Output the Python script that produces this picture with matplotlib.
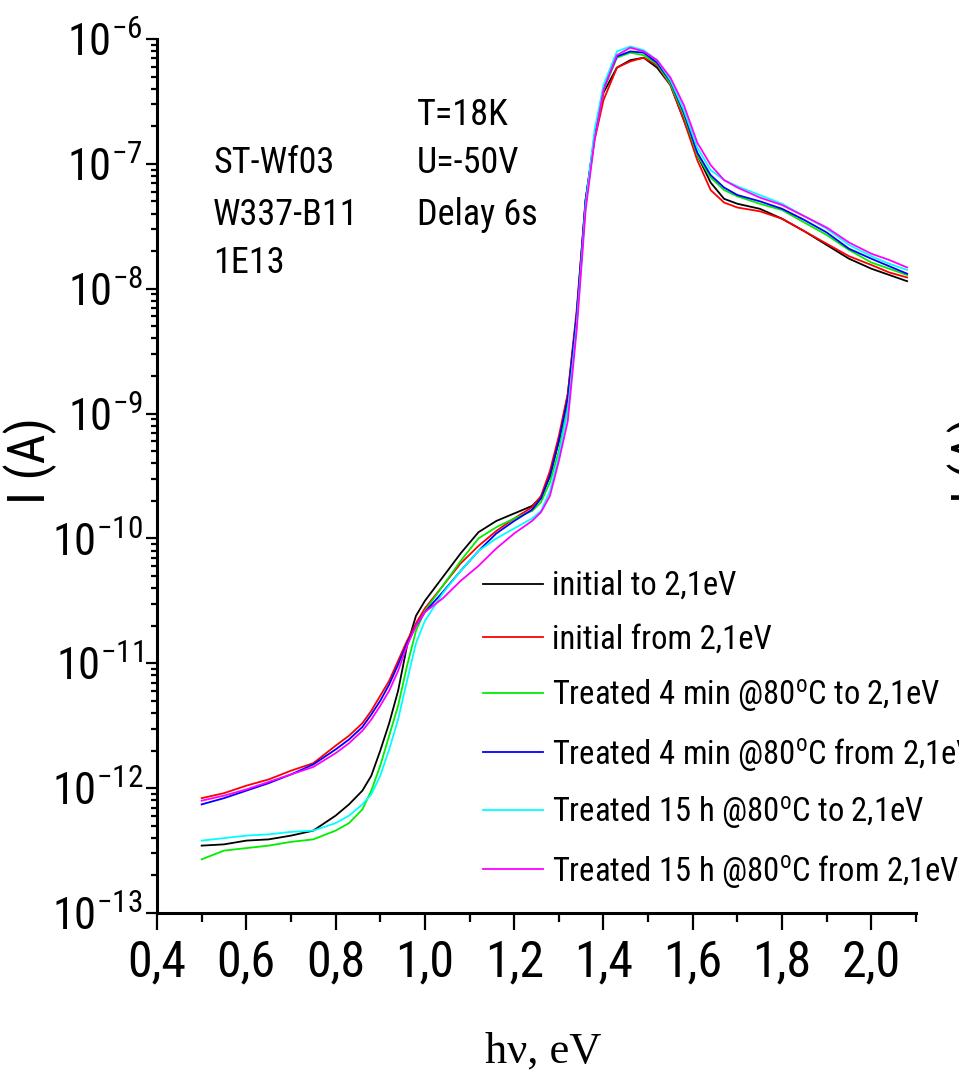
import numpy as np
import matplotlib.pyplot as plt
from matplotlib import font_manager
from matplotlib.ticker import LogLocator, FuncFormatter, MultipleLocator, NullFormatter

# prefer a condensed sans if one is installed
available = {f.name for f in font_manager.fontManager.ttflist}
SANS = 'Roboto Condensed' if 'Roboto Condensed' in available else 'Liberation Sans'

plt.rcParams['font.family'] = [SANS, 'DejaVu Sans']
plt.rcParams['mathtext.fontset'] = 'custom'
plt.rcParams['mathtext.rm'] = SANS
plt.rcParams['mathtext.it'] = SANS + ':italic'
plt.rcParams['mathtext.bf'] = SANS + ':bold'
plt.rcParams['mathtext.default'] = 'rm'

# photon energy, eV
hv = [0.50, 0.55, 0.60, 0.65, 0.70, 0.75, 0.80, 0.83, 0.86, 0.88,
      0.90, 0.92, 0.94, 0.96, 0.98, 1.00, 1.04, 1.08, 1.12, 1.16,
      1.20, 1.24, 1.26, 1.28, 1.30, 1.32, 1.34, 1.36, 1.38, 1.40,
      1.43, 1.46, 1.49, 1.52, 1.55, 1.58, 1.61, 1.64, 1.67, 1.70,
      1.75, 1.80, 1.85, 1.90, 1.95, 2.00, 2.04, 2.08]

# log10 of photocurrent (A) for each scan
lg_init_to = [-12.46, -12.45, -12.42, -12.41, -12.38, -12.34, -12.22, -12.13, -12.02, -11.90,
              -11.70, -11.48, -11.22, -10.86, -10.62, -10.50, -10.31, -10.12, -9.95, -9.86,
              -9.80, -9.74, -9.67, -9.50, -9.22, -8.85, -8.21, -7.29, -6.79, -6.43,
              -6.23, -6.17, -6.15, -6.23, -6.37, -6.65, -6.93, -7.15, -7.28, -7.32,
              -7.36, -7.44, -7.54, -7.65, -7.76, -7.84, -7.89, -7.94]
lg_init_from = [-12.08, -12.04, -11.98, -11.93, -11.86, -11.80, -11.66, -11.58, -11.48, -11.38,
                -11.26, -11.14, -10.98, -10.82, -10.68, -10.56, -10.38, -10.20, -10.06, -9.94,
                -9.84, -9.75, -9.66, -9.46, -9.18, -8.84, -8.17, -7.29, -6.81, -6.49,
                -6.23, -6.18, -6.15, -6.21, -6.37, -6.65, -6.97, -7.21, -7.31, -7.35,
                -7.38, -7.44, -7.54, -7.64, -7.74, -7.81, -7.87, -7.91]
lg_4min_to = [-12.57, -12.50, -12.48, -12.46, -12.43, -12.41, -12.34, -12.28, -12.17, -12.02,
              -11.82, -11.58, -11.34, -11.02, -10.74, -10.58, -10.38, -10.18, -10.00, -9.91,
              -9.84, -9.78, -9.71, -9.55, -9.30, -8.94, -8.25, -7.33, -6.79, -6.41,
              -6.15, -6.11, -6.13, -6.20, -6.36, -6.61, -6.93, -7.11, -7.21, -7.26,
              -7.32, -7.37, -7.47, -7.57, -7.69, -7.79, -7.84, -7.89]
lg_4min_from = [-12.13, -12.08, -12.02, -11.96, -11.89, -11.81, -11.69, -11.61, -11.51, -11.41,
                -11.30, -11.17, -11.01, -10.84, -10.70, -10.59, -10.43, -10.26, -10.10, -9.96,
                -9.86, -9.77, -9.68, -9.50, -9.22, -8.88, -8.21, -7.29, -6.77, -6.39,
                -6.14, -6.10, -6.11, -6.19, -6.34, -6.59, -6.91, -7.09, -7.19, -7.25,
                -7.30, -7.36, -7.45, -7.55, -7.68, -7.76, -7.82, -7.88]
lg_15h_to = [-12.42, -12.40, -12.38, -12.37, -12.35, -12.34, -12.28, -12.22, -12.13, -12.05,
             -11.90, -11.69, -11.45, -11.14, -10.84, -10.66, -10.44, -10.26, -10.10, -10.00,
             -9.92, -9.84, -9.78, -9.62, -9.34, -8.98, -8.29, -7.33, -6.73, -6.37,
             -6.10, -6.06, -6.09, -6.17, -6.33, -6.57, -6.87, -7.05, -7.13, -7.18,
             -7.25, -7.32, -7.42, -7.52, -7.65, -7.74, -7.80, -7.85]
lg_15h_from = [-12.10, -12.06, -12.01, -11.95, -11.89, -11.83, -11.72, -11.64, -11.54, -11.45,
               -11.34, -11.22, -11.06, -10.86, -10.70, -10.59, -10.48, -10.34, -10.22, -10.08,
               -9.96, -9.86, -9.79, -9.66, -9.38, -9.06, -8.33, -7.37, -6.81, -6.41,
               -6.13, -6.07, -6.10, -6.17, -6.31, -6.53, -6.83, -7.01, -7.13, -7.19,
               -7.27, -7.33, -7.42, -7.51, -7.63, -7.72, -7.77, -7.83]

labels = ['initial to 2,1eV',
          'initial from 2,1eV',
          r'Treated 4 min @80$^{o}$C to 2,1eV',
          r'Treated 4 min @80$^{o}$C from 2,1eV',
          r'Treated 15 h @80$^{o}$C to 2,1eV',
          r'Treated 15 h @80$^{o}$C from 2,1eV']
colors = ['#000000', '#ff0000', '#00ee00', '#0000ff', '#00ffff', '#ff00ff']
series = [lg_init_to, lg_init_from, lg_4min_to, lg_4min_from, lg_15h_to, lg_15h_from]

fig = plt.figure(figsize=(9.59, 10.79), dpi=100)
ax = fig.add_axes([0.1637, 0.1538, 0.7915, 0.8101])

for lg, c, lab in zip(series, colors, labels):
    ax.plot(hv, 10 ** np.array(lg), color=c, lw=1.3, label=lab)

ax.set_yscale('log')
ax.set_ylim(1e-13, 1e-6)
ax.set_xlim(0.4, 2.1)

ax.spines['top'].set_visible(False)
ax.spines['right'].set_visible(False)
for s in ('left', 'bottom'):
    ax.spines[s].set_linewidth(2.2)

ax.xaxis.set_major_locator(MultipleLocator(0.2))
ax.xaxis.set_minor_locator(MultipleLocator(0.1))
ax.xaxis.set_major_formatter(FuncFormatter(lambda v, p: f'{v:.1f}'.replace('.', ',')))
ax.yaxis.set_major_locator(LogLocator(base=10, numticks=20))
ax.yaxis.set_minor_locator(LogLocator(base=10, subs=np.arange(2, 10), numticks=20))
ax.yaxis.set_minor_formatter(NullFormatter())
ax.yaxis.set_major_formatter(FuncFormatter(
    lambda v, p: r'$10^{%d}$' % int(round(np.log10(v)))))

ax.tick_params(axis='x', which='major', direction='out', length=12, width=1.6,
               labelsize=36, pad=6)
ax.tick_params(axis='x', which='minor', direction='out', length=6.5, width=1.6)
ax.tick_params(axis='y', which='major', direction='out', length=8, width=1.6,
               labelsize=32, pad=2)
ax.tick_params(axis='y', which='minor', direction='out', length=4.3, width=1.6)

ax.set_ylabel('I (A)', fontsize=37)
ax.yaxis.set_label_coords(-0.132, 0.518)
ax.set_xlabel('h\u03bd, eV', fontsize=32, family=['Liberation Serif', 'DejaVu Serif'])
ax.xaxis.set_label_coords(0.509, -0.135)

# sample and measurement notes
for txt, y in zip(['ST-Wf03', 'W337-B11', '1E13'], [0.8467, 0.7872, 0.7323]):
    ax.text(0.074, y, txt, transform=ax.transAxes, fontsize=26, va='baseline')
for txt, y in zip(['T=18K', 'U=-50V', 'Delay 6s'], [0.9016, 0.8467, 0.7872]):
    ax.text(0.3426, y, txt, transform=ax.transAxes, fontsize=26, va='baseline')

ax.legend(loc='upper left', bbox_to_anchor=(0.4295, 0.3925), frameon=False,
          fontsize=23.5, handlelength=1.84, handletextpad=0.28, borderpad=0,
          borderaxespad=0, labelspacing=0.66)

# axis title of the neighbouring panel, cut by the figure edge
fig.text(1.0156, 0.5737, 'I (A)', rotation=90, ha='center', va='center',
         fontsize=37)

fig.savefig('out.png', dpi=100)
